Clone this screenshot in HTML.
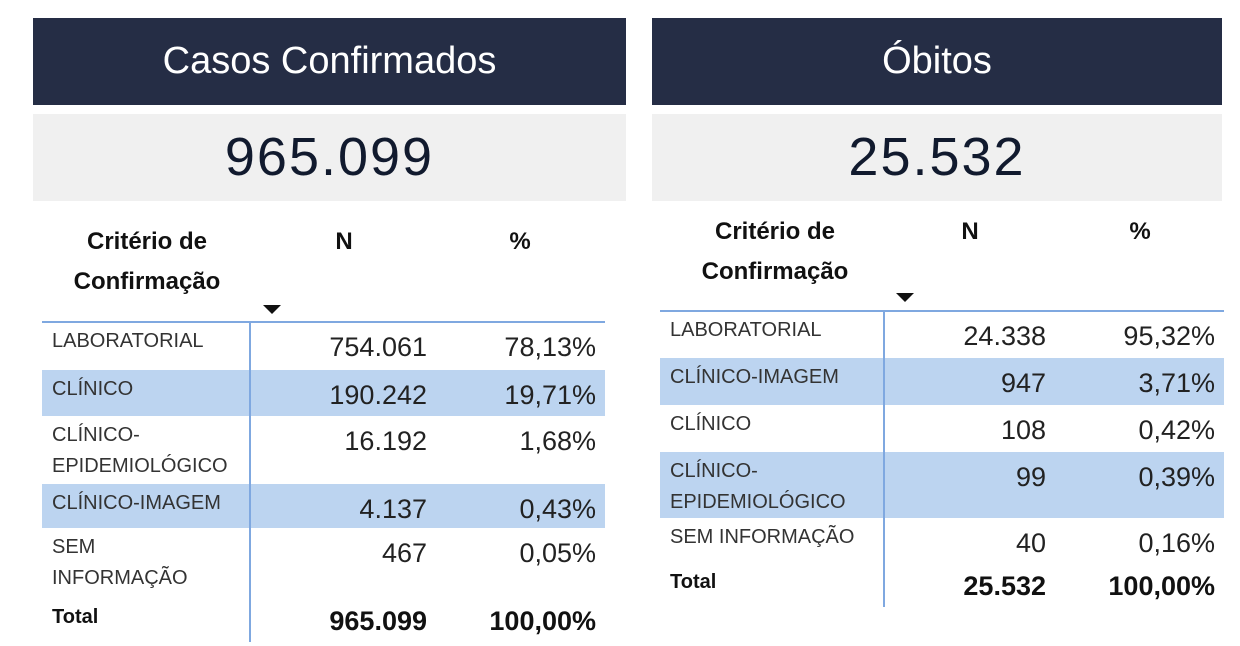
<!DOCTYPE html>
<html><head><meta charset="utf-8">
<style>
body{margin:0;width:1240px;height:646px;background:#fff;position:relative;overflow:hidden;font-family:"Liberation Sans",sans-serif;color:#222;}
.abs{position:absolute;}
.hdr{background:#252d45;color:#fff;font-size:38px;text-align:center;line-height:87px;}
.kpi{background:#f0f0f0;color:#111a2e;font-size:54px;text-align:center;line-height:87px;letter-spacing:2px;}
.colh{font-weight:bold;font-size:24px;color:#111;text-align:center;line-height:40px;}
.band{background:#bcd4f0;}
.lbl{font-size:20px;color:#333;line-height:31px;}
.num{font-size:27px;color:#222;text-align:right;}
.tot{font-weight:bold;color:#111;}
.arrow{width:0;height:0;border-left:9px solid transparent;border-right:9px solid transparent;border-top:9px solid #111;}
</style></head><body>
<div class="abs hdr" style="left:33px;top:18px;width:593px;height:87px;">Casos Confirmados</div>
<div class="abs kpi" style="left:33px;top:114px;width:593px;height:87px;">965.099</div>
<div class="abs hdr" style="left:652px;top:18px;width:570px;height:87px;">Óbitos</div>
<div class="abs kpi" style="left:652px;top:114px;width:570px;height:87px;">25.532</div>
<div id="root"></div>
<script>
const casosLabels=["LABORATORIAL","CLÍNICO","CLÍNICO-<br>EPIDEMIOLÓGICO","CLÍNICO-IMAGEM","SEM<br>INFORMAÇÃO"];
const casosN=["754.061","190.242","16.192","4.137","467"];
const casosPct=["78,13%","19,71%","1,68%","0,43%","0,05%"];
const casosRowH=[48,46,68,44,72];
const obitosLabels=["LABORATORIAL","CLÍNICO-IMAGEM","CLÍNICO","CLÍNICO-<br>EPIDEMIOLÓGICO","SEM INFORMAÇÃO"];
const obitosN=["24.338","947","108","99","40"];
const obitosPct=["95,32%","3,71%","0,42%","0,39%","0,16%"];
const obitosRowH=[47,47,47,66,47];
const root=document.getElementById('root');
function mk(html,style,cls){const d=document.createElement('div');d.className='abs '+(cls||'');d.style.cssText=style;d.innerHTML=html;root.appendChild(d);return d;}
function table(p,labels,ns,pcts,hs,totN,totP,prefix){
  let e;
  e=mk('Critério de<br>Confirmação',`left:${p.hx-110}px;top:${p.hy}px;width:220px;`,'colh');
  
  
  e=mk('N',`left:${p.nx-30}px;top:${p.hy}px;width:60px;`,'colh');
  
  
  e=mk('%',`left:${p.px-30}px;top:${p.hy}px;width:60px;`,'colh');
  
  
  e=mk('',`left:${p.ax-9}px;top:${p.ay}px;`,'arrow');
  
  
  let y=p.top;
  for(let i=0;i<labels.length;i++){
    const h=hs[i];
    if(i%2===1){e=mk('',`left:${p.l}px;top:${y}px;width:${p.r-p.l}px;height:${h}px;`,'band');
      
      }
    e=mk(labels[i],`left:${p.l+10}px;top:${y+4}px;`,'lbl');
    
    
    e=mk(ns[i],`left:${p.nr-200}px;top:${y+10}px;width:200px;`,'num');
    
    
    e=mk(pcts[i],`left:${p.r-9-200}px;top:${y+10}px;width:200px;`,'num');
    
    
    y+=h;
  }
  e=mk('Total',`left:${p.l+10}px;top:${y+2}px;font-size:20px;`,'lbl tot');
  
  
  e=mk(totN,`left:${p.nr-200}px;top:${y+6}px;width:200px;`,'num tot');
  
  
  e=mk(totP,`left:${p.r-9-200}px;top:${y+6}px;width:200px;`,'num tot');
  
  
  e=mk('',`left:${p.l}px;top:${p.top-1}px;width:${p.r-p.l}px;height:2px;background:#7fa8e0;`);
  
  
  e=mk('',`left:${p.vx}px;top:${p.top}px;width:2px;height:${y+42-p.top}px;background:#7fa8e0;`);
  
  
}
table({l:42,r:605,top:322,hx:147,hy:222,nx:344,px:520,ax:272,ay:305,nr:427,vx:249},casosLabels,casosN,casosPct,casosRowH,"965.099","100,00%","casos");
table({l:660,r:1224,top:311,hx:775,hy:212,nx:970,px:1140,ax:905,ay:293,nr:1046,vx:883},obitosLabels,obitosN,obitosPct,obitosRowH,"25.532","100,00%","obitos");
</script>
</body></html>
